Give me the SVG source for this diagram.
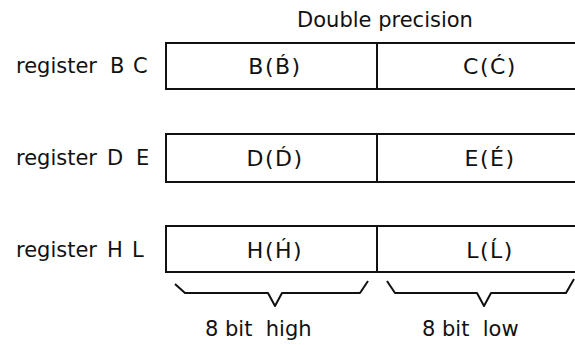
<svg xmlns="http://www.w3.org/2000/svg" width="575" height="345" viewBox="0 0 575 345">
<style>
text{font-family:"DejaVu Sans","Liberation Sans",sans-serif;font-size:21px;fill:#111;white-space:pre}
.c{text-anchor:middle}
.cell{font-size:22px;letter-spacing:1.5px}
.box{fill:none;stroke:#111;stroke-width:2}
.br{fill:none;stroke:#111;stroke-width:2;stroke-linejoin:round}
</style>
<rect width="575" height="345" fill="#fff"/>
<text class="c" x="385" y="27" font-size="22">Double precision</text>
<g id="regBC">
<text y="73"><tspan x="16">register</tspan><tspan x="110">B</tspan><tspan x="133">C</tspan></text>
<path class="box" d="M576,43 H166 V89 H576 M377,43 V89"/>
<text class="c cell" x="275" y="74">B(B́)</text>
<text class="c cell" x="490" y="74">C(Ć)</text>
</g>
<g id="regDE">
<text y="165"><tspan x="16">register</tspan><tspan x="107">D</tspan><tspan x="136">E</tspan></text>
<path class="box" d="M576,134 H166 V182 H576 M377,134 V182"/>
<text class="c cell" x="275" y="166">D(D́)</text>
<text class="c cell" x="490" y="166">E(É)</text>
</g>
<g id="regHL">
<text y="257"><tspan x="16">register</tspan><tspan x="107">H</tspan><tspan x="132">L</tspan></text>
<path class="box" d="M576,226 H166 V272 H576 M377,226 V272"/>
<text class="c cell" x="275" y="258">H(H́)</text>
<text class="c cell" x="490" y="258">L(Ĺ)</text>
</g>
<g id="connectors">
<path class="br" d="M175,284 L185,293 H268 L275,306 L282,293 H360 L368,281"/>
<path class="br" d="M387,281 L395,293 H477 L484,306 L491,293 H566 L574,279"/>
</g>
<g id="labels">
<text x="205" y="336">8 bit  high</text>
<text x="422" y="336">8 bit  low</text>
</g>
</svg>
